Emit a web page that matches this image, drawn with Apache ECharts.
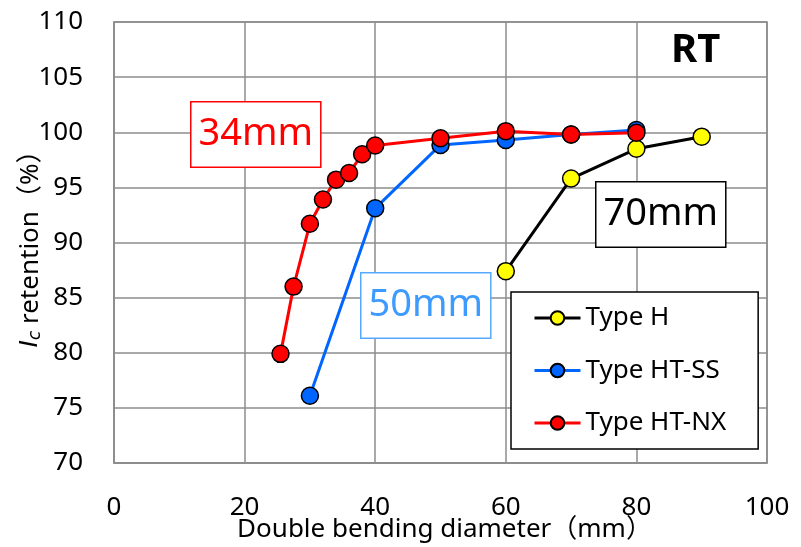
<!DOCTYPE html>
<html>
<head>
<meta charset="utf-8">
<script src="https://cdn.jsdelivr.net/npm/echarts/dist/echarts.min.js"></script>
<style>html,body{margin:0;padding:0;background:#fff}#c{width:801px;height:547px}</style>
</head>
<body>
<div id="c"></div>
<script>
var xTicks = [0, 20, 40, 60, 80, 100];
var yTicks = [70, 75, 80, 85, 90, 95, 100, 105, 110];

var typeH_x = [60, 70, 80, 90];
var typeH_y = [87.4, 95.8, 98.5, 99.6];

var typeSS_x = [30, 40, 50, 60, 70, 80];
var typeSS_y = [76.1, 93.1, 98.85, 99.3, 99.8, 100.2];

var typeNX_x = [25.5, 27.5, 30, 32, 34, 36, 38, 40, 50, 60, 70, 80];
var typeNX_y = [79.9, 86.0, 91.7, 93.9, 95.7, 96.3, 98.0, 98.8, 99.45, 100.1, 99.8, 99.95];

var seriesNames = ['Type H', 'Type HT-SS', 'Type HT-NX'];

function pairs(xs, ys) { return xs.map(function (x, i) { return [x, ys[i]]; }); }

var FONT = '"Noto Sans", "Noto Sans CJK JP", sans-serif';
var IFONT = '"DejaVu Sans", "Noto Sans", sans-serif';
var chart = echarts.init(document.getElementById('c'), null, {renderer: 'canvas'});

function mk(name, data, lineColor, fill) {
  return {
    name: name, type: 'line', data: data,
    symbol: 'circle', symbolSize: 17,
    lineStyle: {color: lineColor, width: 3},
    itemStyle: {color: fill, borderColor: '#000', borderWidth: 1.5},
    emphasis: {disabled: true},
    animation: false
  };
}

chart.setOption({
  animation: false,
  grid: {left: 114, right: 34, top: 22, bottom: 84, show: false, containLabel: false, outerBoundsMode: 'none'},
  xAxis: {
    type: 'value', min: 0, max: 100, interval: 20,
    axisLine: {show: true, lineStyle: {color: '#8c8c8c', width: 1.5}},
    axisTick: {show: false},
    splitLine: {show: true, lineStyle: {color: '#8c8c8c', width: 1.5}},
    axisLabel: {margin: 32, fontSize: 26, color: '#000', fontFamily: FONT},
    name: 'Double bending diameter（mm）',
    nameLocation: 'middle', nameGap: 54, nameMoveOverlap: false,
    nameTextStyle: {fontSize: 26, color: '#000', fontFamily: FONT, padding: [0, 0, 0, 8]}
  },
  yAxis: {
    type: 'value', min: 70, max: 110, interval: 5,
    axisLine: {show: true, lineStyle: {color: '#8c8c8c', width: 1.5}},
    axisTick: {show: false},
    splitLine: {show: true, lineStyle: {color: '#8c8c8c', width: 1.5}},
    axisLabel: {margin: 31, fontSize: 26, color: '#000', fontFamily: FONT},
    name: '{i|I}{s|c} retention（%）',
    nameLocation: 'middle', nameGap: 70, nameRotate: 90, nameMoveOverlap: false,
    nameTextStyle: {
      fontSize: 26, color: '#000', fontFamily: FONT,
      rich: {
        i: {fontSize: 25, fontStyle: 'italic', fontFamily: IFONT, color: '#000'},
        s: {fontSize: 17, fontStyle: 'italic', fontFamily: IFONT, color: '#000', verticalAlign: 'bottom'}
      }
    }
  },
  legend: {
    show: true, orient: 'vertical',
    left: 511, top: 292,
    padding: [13, 32, 13, 22],
    itemGap: 26.5, itemWidth: 46, itemHeight: 17,
    borderColor: '#000', borderWidth: 1.5, backgroundColor: '#fff',
    lineStyle: {width: 3},
    textStyle: {fontSize: 26, color: '#000', fontFamily: FONT},
    data: seriesNames
  },
  graphic: [
    {type: 'rect', shape: {x: 114, y: 22, width: 653, height: 441}, style: {fill: 'none', stroke: '#8c8c8c', lineWidth: 1.5}, silent: true, z: 0},
    {type: 'text', left: 190, top: 101, z: 100,
      style: {text: '34mm', fontSize: 38, fill: '#ff0000', fontFamily: FONT, backgroundColor: '#fff', borderColor: '#ff0000', borderWidth: 1.5, padding: [13, 7, 13, 7]}},
    {type: 'text', left: 360, top: 272, z: 100,
      style: {text: '50mm', fontSize: 38, fill: '#3d9bff', fontFamily: FONT, backgroundColor: '#fff', borderColor: '#55aaff', borderWidth: 1.5, padding: [13, 7, 13, 7]}},
    {type: 'text', left: 595, top: 181, z: 100,
      style: {text: '70mm', fontSize: 38, fill: '#000', fontFamily: FONT, backgroundColor: '#fff', borderColor: '#000', borderWidth: 1.5, padding: [13, 7, 13, 7]}},
    {type: 'text', left: 671, top: 31, z: 100,
      style: {text: 'RT', fontSize: 40, fontWeight: 'bold', fill: '#000', fontFamily: FONT}}
  ],
  series: [
    mk(seriesNames[0], pairs(typeH_x, typeH_y), '#000000', '#ffff00'),
    mk(seriesNames[1], pairs(typeSS_x, typeSS_y), '#0066ff', '#0066ff'),
    mk(seriesNames[2], pairs(typeNX_x, typeNX_y), '#ff0000', '#ff0000')
  ]
});
</script>
</body>
</html>
